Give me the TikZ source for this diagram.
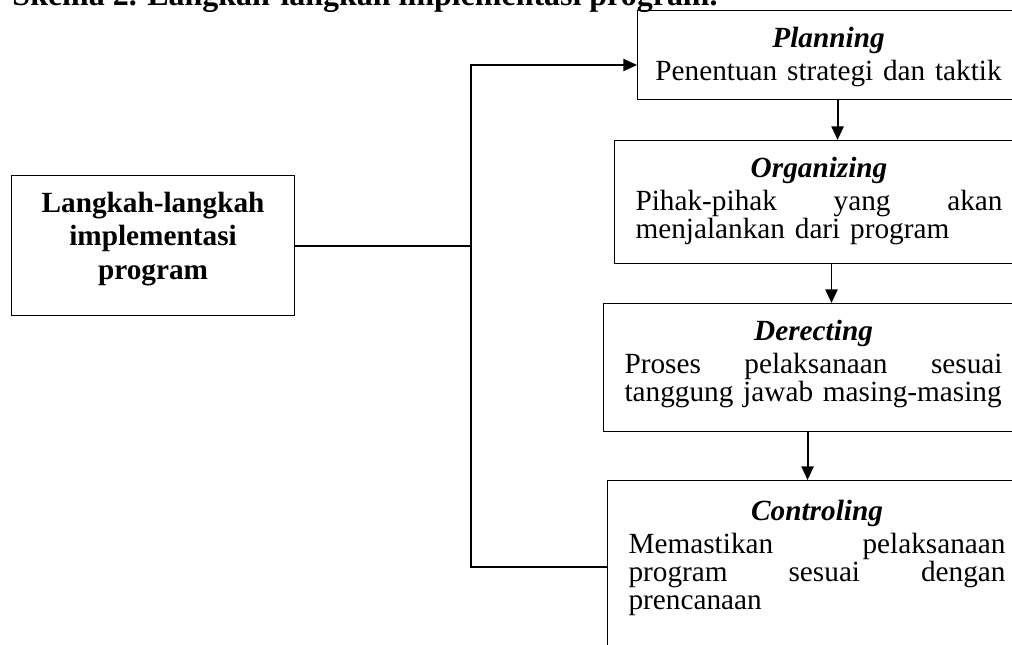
\documentclass[tikz,border=0pt]{standalone}
\usepackage{fontspec}
\setmainfont{Liberation Serif}
\usetikzlibrary{arrows.meta}

\tikzset{
  stepbox/.style={draw, line width=0.45pt, rectangle, anchor=north west, inner ysep=0pt, inner xsep=8.61pt, align=left, font=\fontsize{12}{11.5}\selectfont},
  conn/.style={line width=0.8pt},
  arr/.style={conn, -{Triangle[length=5.6pt,width=5pt]}}
}
\newcommand{\steptitle}[1]{\makebox[\linewidth]{\bfseries\itshape #1}\\[2pt]}

\begin{document}
\begin{tikzpicture}[x=0.41pt, y=-0.41pt]
    \useasboundingbox (0,0) rectangle (1012,645);
    \clip (0,0) rectangle (1012,645);
    \node[anchor=base west, inner sep=0pt, font=\bfseries\fontsize{13.1}{15}\selectfont] (judul) at (12,6) {Skema 2. Langkah-langkah implementasi program.};
    % left box
    \node[draw, line width=0.45pt, anchor=north west, inner ysep=0pt, inner xsep=4.1pt, text width=107.83pt, align=center,
          text height=15.17pt, text depth=42.23pt, font=\bfseries\fontsize{12}{13.7}\selectfont] (langkah) at (11,175)
          {Langkah-langkah\\ implementasi\\ program};
    % steps
    \node[stepbox, text width=139.4pt, text height=15.17pt, text depth=21.32pt] (planning) at (637,10)
          {\steptitle{Planning}\makebox[\linewidth]{Penentuan strategi dan taktik}};
    \node[stepbox, text width=150.47pt, text height=15.17pt, text depth=35.26pt] (organizing) at (614,140)
          {\steptitle{Organizing}Pihak-pihak\hfill yang\hfill akan\\ menjalankan dari program};
    \node[stepbox, text width=154.98pt, text height=15.17pt, text depth=37.31pt] (derecting) at (603,303)
          {\steptitle{Derecting}Proses\hfill pelaksanaan\hfill sesuai\\ tanggung jawab masing-masing};
    \node[stepbox, text width=154.57pt, text height=16.4pt, text depth=69.7pt] (controling) at (607,480)
          {\steptitle{Controling}Memastikan\hfill pelaksanaan\\ program\hfill sesuai\hfill dengan\\ prencanaan};
    % arrows between steps
    \draw[arr] ([xshift=3.69pt]planning.south) -- ([xshift=3.69pt]planning.south |- organizing.north);
    \draw[arr] ([xshift=5.1pt]organizing.south) -- ([xshift=5.1pt]organizing.south |- derecting.north);
    \draw[arr] ([xshift=-2.46pt]derecting.south) -- ([xshift=-2.46pt]derecting.south |- controling.north);
    % bracket
    \coordinate (top) at (471,65);
    \coordinate (bot) at (471,567);
    \draw[conn] (langkah.east) -- (langkah.east -| top);
    \draw[arr] (bot -| controling.west) -- (bot) -- (top) -- (top -| planning.west);
\end{tikzpicture}
\end{document}
